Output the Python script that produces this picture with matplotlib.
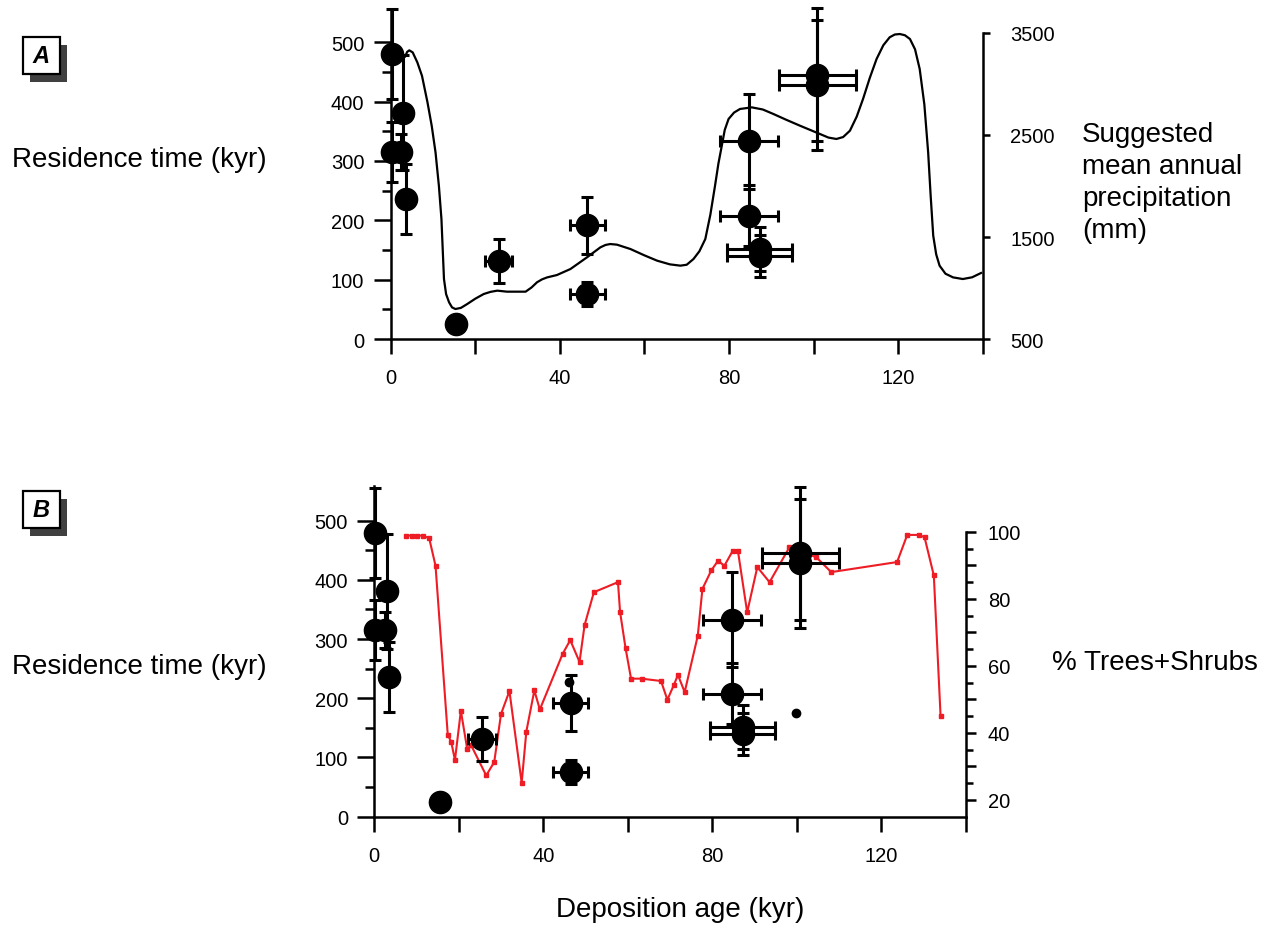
import matplotlib
matplotlib.use("Agg")
import matplotlib.pyplot as plt
from matplotlib.patches import Rectangle
from matplotlib.ticker import MultipleLocator, FixedLocator, FuncFormatter

plt.rcParams["font.family"] = ["Liberation Sans", "DejaVu Sans"]

W, H = 1270, 928

# residence time samples (same in both panels)
dep_age = [0.2, 0.2, 2.5, 3.0, 3.5, 15.5, 25.5, 46.5, 46.5, 84.7, 84.7, 87.3, 87.3, 100.9, 100.9]
dep_age_err = [0, 0, 0, 0, 0, 0.8, 3.3, 4.2, 4.2, 6.9, 6.9, 7.7, 7.7, 9.1, 9.1]
res_time = [480, 315, 315, 381, 236, 25, 131, 192, 76, 333, 208, 151, 140, 445, 428]
res_time_err = [76, 51, 30, 97, 59, 5, 37, 48, 20, 80, 52, 37, 35, 112, 109]

# small extra dots in panel B
extra_age = [46.2, 99.9]
extra_res = [228, 176]

# suggested mean annual precipitation (mm), panel A
precip_age = [3.4, 3.9, 4.4, 5.2, 6.3, 7.4, 8.7, 9.7, 10.6, 11.4, 12.0, 12.3, 12.6, 13.1,
              13.8, 14.5, 15.3, 16.6, 18.1, 20.0, 22.0, 23.6, 25.2, 27.5, 31.9, 33.3,
              34.6, 35.8, 37.0, 39.3, 42.5, 46.4, 49.6, 50.8, 51.9, 53.5, 56.7, 60.0,
              63.0, 66.0, 68.5, 70.0, 71.6, 73.0, 74.4, 75.6, 76.7, 77.5, 78.3, 79.0,
              79.9, 81.2, 82.6, 85.4, 88.0, 90.5, 93.5, 96.8, 101.5, 103.5, 105.4, 107.0,
              108.6, 110.2, 111.7, 113.3, 114.9, 116.5, 118.0, 119.2, 120.4, 121.6, 122.8,
              124.0, 125.1, 126.2, 127.1, 127.7, 128.3, 129.0, 129.8, 131.2, 133.0, 135.3,
              137.5, 139.6]
precip_mm = [3270, 3315, 3330, 3310, 3212, 3080, 2820, 2590, 2330, 2000, 1676, 1380, 1088, 940,
             860, 810, 794, 805, 843, 895, 941, 962, 974, 964, 964, 1005,
             1056, 1085, 1104, 1127, 1186, 1300, 1399, 1422, 1431, 1425, 1382, 1320,
             1268, 1232, 1219, 1228, 1284, 1360, 1480, 1720, 2003, 2220, 2395, 2550,
             2657, 2720, 2755, 2771, 2750, 2706, 2650, 2591, 2510, 2475, 2461, 2480,
             2542, 2680, 2853, 3060, 3245, 3380, 3458, 3485, 3490, 3478, 3441,
             3340, 3147, 2800, 2330, 1900, 1513, 1330, 1219, 1140, 1104, 1088,
             1105, 1147]

# % trees + shrubs, panel B
trees_age = [7.6, 8.9, 10.2, 11.5, 13.0, 14.5, 17.4, 18.2, 19.1, 20.5, 22.0, 22.9, 26.5,
             28.4, 30.0, 32.0, 34.9, 36.0, 37.9, 39.2, 44.6, 46.4, 48.6, 49.8, 52.0,
             57.7, 58.2, 59.5, 60.8, 63.3, 67.9, 69.4, 70.9, 71.9, 73.5, 76.6, 77.7,
             79.8, 81.4, 82.9, 84.9, 86.1, 88.3, 90.7, 93.6, 98.3, 102.5, 104.7, 108.2,
             123.8, 126.2, 129.0, 130.3, 132.5, 134.1]
trees_pct = [98.9, 98.9, 98.9, 98.9, 98.1, 89.9, 39.4, 37.4, 31.9, 46.6, 35.2, 36.4, 27.3,
             31.3, 45.6, 52.5, 25.1, 40.4, 52.7, 47.0, 63.6, 67.7, 61.2, 72.2, 82.0,
             85.0, 76.1, 65.3, 56.2, 56.2, 55.5, 49.9, 54.2, 57.3, 52.2, 69.0, 83.0,
             88.5, 91.4, 89.9, 94.4, 94.4, 76.0, 89.5, 85.0, 95.4, 93.5, 92.4, 88.0,
             91.0, 99.1, 99.1, 98.4, 87.0, 45.0]


def px_axes(left, right, top, bottom):
    return [left / W, 1 - bottom / H, (right - left) / W, (bottom - top) / H]


def style_left(ax, ylim):
    ax.set_xlim(0, 140)
    ax.set_ylim(*ylim)
    for s in ["top", "right"]:
        ax.spines[s].set_visible(False)
    for s in ["left", "bottom"]:
        ax.spines[s].set_linewidth(1.8)
    ax.xaxis.set_major_locator(MultipleLocator(20))
    ax.xaxis.set_major_formatter(FuncFormatter(lambda v, p: f"{v:.0f}" if v % 40 == 0 else ""))
    ax.yaxis.set_major_locator(FixedLocator([0, 100, 200, 300, 400, 500]))
    ax.yaxis.set_minor_locator(FixedLocator([50, 150, 250, 350, 450]))
    ax.tick_params(axis="x", length=11, width=1.8, labelsize=14.5, pad=10)
    ax.tick_params(axis="y", which="major", length=12, width=1.8, labelsize=14.5, pad=7)
    ax.tick_params(axis="y", which="minor", length=6.5, width=1.8)


def draw_samples(ax, extra=False):
    ax.errorbar(dep_age, res_time, xerr=dep_age_err, yerr=res_time_err, fmt="o",
                color="black", ms=16, elinewidth=2.2, capsize=4, capthick=2.2,
                clip_on=False, zorder=3)
    if extra:
        ax.plot(extra_age, extra_res, "o", color="black", ms=6, zorder=3)


def panel_tag(fig, letter, x0, y0):
    size = 37
    fig.add_artist(Rectangle(((x0 + 7) / W, 1 - (y0 + 8 + size) / H), size / W, size / H,
                             transform=fig.transFigure, facecolor="#404040", edgecolor="none"))
    fig.add_artist(Rectangle((x0 / W, 1 - (y0 + size) / H), size / W, size / H,
                             transform=fig.transFigure, facecolor="white", edgecolor="black",
                             linewidth=1.6))
    fig.text((x0 + size / 2) / W, 1 - (y0 + size / 2) / H, letter, ha="center", va="center",
             fontsize=17, fontweight="bold", fontstyle="italic")


fig = plt.figure(figsize=(W / 100, H / 100), dpi=100)

# ---- panel A ----
axA = fig.add_axes(px_axes(390.7, 982.7, 10, 340))
style_left(axA, (0, 556))
axA2 = axA.twinx()
axA2.set_ylim(500, 500 + 330 / 306 * 3000)
axA2.plot(precip_age, precip_mm, color="black", lw=1.6)
for s in ["top", "left", "bottom"]:
    axA2.spines[s].set_visible(False)
axA2.spines["right"].set_bounds(500, 3500)
axA2.spines["right"].set_linewidth(1.8)
axA2.yaxis.set_major_locator(FixedLocator([500, 1500, 2500, 3500]))
axA2.tick_params(axis="y", length=5, width=1.8, labelsize=14.5, pad=15)
axA.set_zorder(axA2.get_zorder() + 1)
axA.patch.set_visible(False)
draw_samples(axA)

# ---- panel B ----
axB = fig.add_axes(px_axes(374.3, 965.5, 487, 817.7))
style_left(axB, (0, 558.6))
axB2 = axB.twinx()
axB2.set_ylim(15.0, 113.7)
axB2.plot(trees_age, trees_pct, color="#ee1c24", lw=1.5, marker="s", ms=3.5)
for s in ["top", "left", "bottom"]:
    axB2.spines[s].set_visible(False)
axB2.spines["right"].set_bounds(15.0, 100)
axB2.spines["right"].set_linewidth(1.8)
axB2.yaxis.set_major_locator(FixedLocator([20, 30, 40, 50, 60, 70, 80, 90, 100]))
axB2.yaxis.set_minor_locator(FixedLocator([25, 35, 45, 55, 65, 75, 85, 95]))
axB2.yaxis.set_major_formatter(FuncFormatter(lambda v, p: f"{v:.0f}" if v % 20 == 0 else ""))
axB2.tick_params(axis="y", which="major", length=7, width=1.8, labelsize=14.5, pad=9)
axB2.tick_params(axis="y", which="minor", length=5, width=1.8)
axB.set_zorder(axB2.get_zorder() + 1)
axB.patch.set_visible(False)
draw_samples(axB, extra=True)

# ---- text ----
fig.text(12 / W, 1 - 160 / H, "Residence time (kyr)", fontsize=20, ha="left", va="center")
fig.text(12 / W, 1 - 667 / H, "Residence time (kyr)", fontsize=20, ha="left", va="center")
fig.text(1082 / W, 1 - 183 / H, "Suggested\nmean annual\nprecipitation\n(mm)", fontsize=20,
         ha="left", va="center", linespacing=1.3)
fig.text(1052 / W, 1 - 663 / H, "% Trees+Shrubs", fontsize=20, ha="left", va="center")
fig.text(680 / W, 1 - 910 / H, "Deposition age (kyr)", fontsize=20, ha="center", va="center")

panel_tag(fig, "A", 22.7, 38)
panel_tag(fig, "B", 22.7, 492)

fig.savefig("out.png", dpi=100)
